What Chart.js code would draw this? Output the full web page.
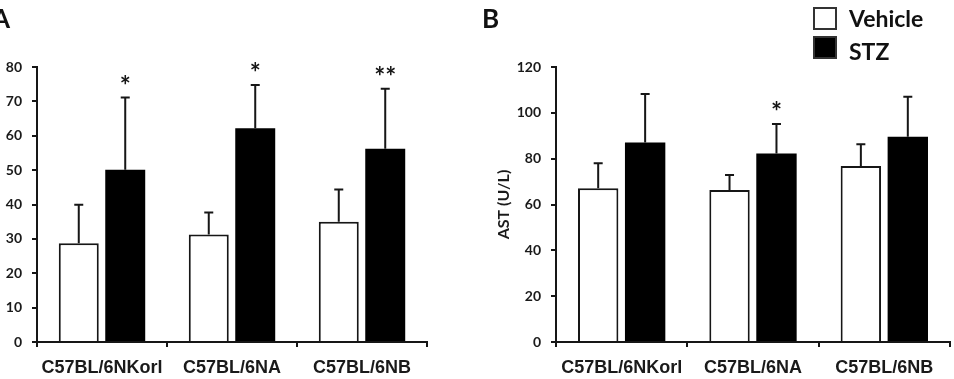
<!DOCTYPE html>
<html lang="en">
<head>
    <meta charset="UTF-8">
    <title>Vehicle vs STZ - ALT / AST</title>
    <style>
        * {
            margin: 0;
            padding: 0;
            box-sizing: border-box;
        }

        body {
            width: 954px;
            height: 379px;
            background-color: white;
            position: relative;
            overflow: hidden;
            font-family: 'Lato', 'Open Sans', sans-serif;
        }

        .panel {
            position: absolute;
            top: 0;
            height: 379px;
        }

        #panelA { left: -40px; width: 480px; }
        #panelB { left: 480px; width: 474px; }

        .panel-label {
            position: absolute;
            font-weight: bold;
            font-size: 26px;
            line-height: 1;
            color: #111;
        }

        .legend-box {
            position: absolute;
            left: 813px;
            width: 24px;
            height: 23px;
            border: 2px solid #333;
        }

        .legend-text {
            position: absolute;
            left: 849px;
            font-weight: bold;
            font-size: 23px;
            line-height: 1;
            color: #111;
        }
    </style>
</head>
<body>
    <div class="panel" id="panelA"><canvas id="chartA" width="480" height="379"></canvas></div>
    <div class="panel" id="panelB"><canvas id="chartB" width="474" height="379"></canvas></div>

    <div class="panel-label" style="left:-8px; top:5px;">A</div>
    <div class="panel-label" style="left:482px; top:5px;">B</div>

    <div class="legend-box" style="top:7px; background:white;"></div>
    <div class="legend-text" style="top:7px;">Vehicle</div>
    <div class="legend-box" style="top:36px; background:#000;"></div>
    <div class="legend-text" style="top:40px;">STZ</div>

    <script src="https://cdn.jsdelivr.net/npm/chart.js"></script>
    <script>
        const strains = ['C57BL/6NKorl', 'C57BL/6NA', 'C57BL/6NB'];

        // panel A (ALT)
        const altVehicle = [28.7, 31.3, 35.0];
        const altVehicleSd = [11.2, 6.4, 9.4];
        const altStz = [50.1, 62.2, 56.2];
        const altStzSd = [21.0, 12.6, 17.5];
        const altSig = ['*', '*', '**'];

        // panel B (AST)
        const astVehicle = [67.1, 66.3, 76.8];
        const astVehicleSd = [10.9, 6.6, 9.5];
        const astStz = [87.1, 82.3, 89.6];
        const astStzSd = [21.1, 12.8, 17.4];
        const astSig = ['', '*', ''];

        const ink = '#161616';

        // error bars (upper half only) + significance stars
        const errorBarPlugin = {
            id: 'errorBars',
            afterDatasetsDraw(chart) {
                const ctx = chart.ctx;
                const yScale = chart.scales.y;
                chart.data.datasets.forEach((ds, i) => {
                    const meta = chart.getDatasetMeta(i);
                    meta.data.forEach((bar, j) => {
                        const top = yScale.getPixelForValue(ds.data[j] + ds.sd[j]);
                        ctx.save();
                        ctx.strokeStyle = ink;
                        ctx.lineWidth = 2;
                        ctx.beginPath();
                        ctx.moveTo(bar.x, bar.y);
                        ctx.lineTo(bar.x, top);
                        ctx.moveTo(bar.x - 4.5, top);
                        ctx.lineTo(bar.x + 4.5, top);
                        ctx.stroke();
                        if (ds.sig && ds.sig[j]) {
                            ctx.fillStyle = ink;
                            ctx.font = 'bold 26px Lato';
                            ctx.textAlign = 'center';
                            ctx.textBaseline = 'alphabetic';
                            ctx.fillText(ds.sig[j], bar.x, top - 18 + 15);
                        }
                        ctx.restore();
                    });
                });
            }
        };

        function makeChart(id, vehicle, vehicleSd, stz, stzSd, sig, yMax, yStep, yTitle, titlePad, padRight) {
            const ctx = document.getElementById(id).getContext('2d');
            return new Chart(ctx, {
                type: 'bar',
                data: {
                    labels: strains,
                    datasets: [
                        {
                            label: 'Vehicle',
                            data: vehicle,
                            sd: vehicleSd,
                            backgroundColor: '#ffffff',
                            borderColor: ink,
                            borderWidth: 2
                        },
                        {
                            label: 'STZ',
                            data: stz,
                            sd: stzSd,
                            sig: sig,
                            backgroundColor: '#000000',
                            borderColor: '#000000',
                            borderWidth: 0
                        }
                    ]
                },
                options: {
                    responsive: false,
                    animation: false,
                    devicePixelRatio: 1,
                    categoryPercentage: 0.715,
                    barPercentage: 0.86,
                    layout: {
                        padding: { top: 67, right: padRight, left: 0, bottom: 0 }
                    },
                    plugins: {
                        legend: { display: false },
                        tooltip: { enabled: false }
                    },
                    scales: {
                        x: {
                            afterFit: (scale) => { scale.height = 37; },
                            border: { display: true, color: ink, width: 2 },
                            grid: {
                                display: true,
                                drawOnChartArea: false,
                                drawTicks: true,
                                tickLength: 5,
                                color: ink,
                                lineWidth: 2
                            },
                            ticks: {
                                color: '#1a1a1a',
                                padding: 10,
                                font: { family: "'Liberation Sans', Arial, sans-serif", size: 18, weight: 'bold' }
                            }
                        },
                        y: {
                            min: 0,
                            max: yMax,
                            afterFit: (scale) => { scale.width = id === 'chartA' ? 77 : 76; },
                            border: { display: true, color: ink, width: 2 },
                            grid: {
                                display: true,
                                drawOnChartArea: false,
                                drawTicks: true,
                                tickLength: 5,
                                color: ink,
                                lineWidth: 2
                            },
                            ticks: {
                                stepSize: yStep,
                                color: '#1a1a1a',
                                padding: 10,
                                font: { family: 'Lato', size: 14, weight: 'bold' }
                            },
                            title: {
                                display: true,
                                text: yTitle,
                                color: '#1a1a1a',
                                padding: { top: titlePad, bottom: 0 },
                                font: { family: 'Lato', size: 16, weight: 'bold' }
                            }
                        }
                    }
                },
                plugins: [errorBarPlugin]
            });
        }

        window.onload = function () {
            makeChart('chartA', altVehicle, altVehicleSd, altStz, altStzSd, altSig, 80, 10, 'ALT (U/L)', 22, 13);
            makeChart('chartB', astVehicle, astVehicleSd, astStz, astStzSd, astSig, 120, 20, 'AST (U/L)', 14, 4);
        };
    </script>
</body>
</html>
